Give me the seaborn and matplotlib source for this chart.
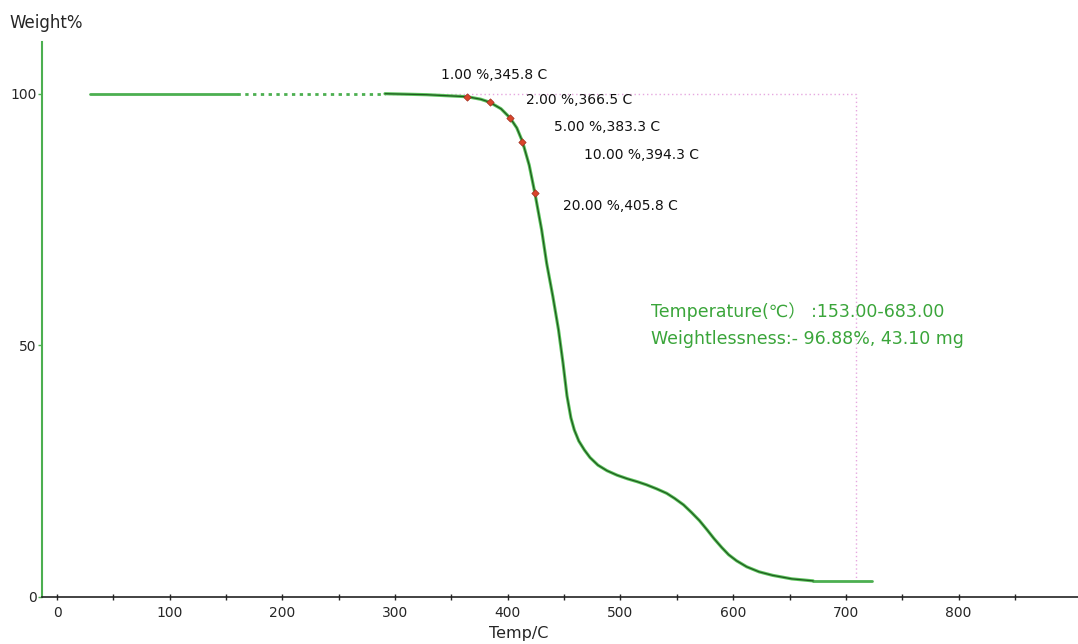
import matplotlib
matplotlib.use("Agg")
import matplotlib.pyplot as plt
import seaborn as sns
import pandas as pd

sns.set_style("white")
plt.rcParams["font.family"] = ["DejaVu Sans", "Noto Sans CJK SC"]

# ---- data ----
# flat start of the run (light green), then dotted gap
start_temp = [29, 160]
start_weight = [100, 100]
gap_temp = [160, 291]
gap_weight = [100, 100]

# main TG curve
curve_temp = [291, 310, 328, 346, 364, 376, 384, 394, 402, 408, 413, 419, 424,
              430, 434.5, 440, 445, 449, 452.5, 456, 459, 463, 468, 473, 480,
              488, 497, 506, 515, 523, 532, 541, 548, 556, 563, 570, 577, 583,
              590, 596, 603, 612, 623, 635, 652, 671]
curve_weight = [100, 99.9, 99.8, 99.6, 99.4, 98.9, 98.3, 97.0, 95.2, 93.2, 90.5,
                85.8, 80.3, 73.0, 66.3, 59.7, 53.1, 46.5, 40.0, 35.6, 33.2, 31.0,
                29.2, 27.7, 26.2, 25.1, 24.2, 23.5, 22.9, 22.3, 21.5, 20.6, 19.6,
                18.3, 16.8, 15.2, 13.3, 11.6, 9.8, 8.4, 7.2, 6.0, 5.0, 4.3, 3.6,
                3.2]

# flat end of the run (light green)
end_temp = [671, 723]
end_weight = [3.2, 3.2]

# marked weight-loss points
mark_temp = [364, 384, 402, 413, 424]
mark_weight = [99.4, 98.3, 95.2, 90.5, 80.3]
mark_labels = ["1.00 %,345.8 C", "2.00 %,366.5 C", "5.00 %,383.3 C",
               "10.00 %,394.3 C", "20.00 %,405.8 C"]
label_temp = [341, 416, 441, 468, 449]
label_weight = [103.8, 98.8, 93.4, 87.9, 77.6]

# evaluation window box
box_temp = [290, 709, 709]
box_weight = [100, 100, 3.2]

# ---- figure ----
fig = plt.figure(figsize=(10.78, 6.44), dpi=100)
ax = fig.add_axes([0.039, 0.073, 0.961, 0.862])

light_green = "#4caf50"

ax.plot(box_temp, box_weight, color="#e6a8e0", lw=1, ls=(0, (1, 2)), zorder=1)

sns.lineplot(x=start_temp, y=start_weight, ax=ax, color=light_green, lw=2, zorder=3)
sns.lineplot(x=gap_temp, y=gap_weight, ax=ax, color=light_green, lw=2,
             linestyle=(0, (1.2, 1.6)), zorder=3)
df = pd.DataFrame({"temp": curve_temp, "weight": curve_weight})
sns.lineplot(data=df, x="temp", y="weight", ax=ax, color="#5cc45c", lw=2.3, zorder=3)
sns.lineplot(data=df, x="temp", y="weight", ax=ax, color="#1f5a1f", lw=0.9, zorder=4)
sns.lineplot(x=end_temp, y=end_weight, ax=ax, color=light_green, lw=2, zorder=3)

sns.scatterplot(x=mark_temp, y=mark_weight, ax=ax, marker="D", s=14,
                color="#d9442a", edgecolor="#a03020", linewidth=0.5, zorder=5)

for t, w, lab in zip(label_temp, label_weight, mark_labels):
    ax.text(t, w, lab, fontsize=10, color="#111111", va="center", ha="left")

ax.text(527, 56.7, "Temperature(\u2103\uff09 :153.00-683.00", fontsize=12.5,
        color="#3aa53a", va="center", ha="left")
ax.text(527, 51.2, "Weightlessness:- 96.88%, 43.10 mg", fontsize=12.5,
        color="#3aa53a", va="center", ha="left")

ax.set_xlim(-13.3, 906)
ax.set_ylim(0, 110.3)
ax.set_xticks([0, 100, 200, 300, 400, 500, 600, 700, 800])
ax.set_xticks(range(50, 901, 100), minor=True)
ax.set_yticks([0, 50, 100])
ax.tick_params(axis="x", which="both", direction="inout", length=5, width=1,
               labelsize=10, pad=4, bottom=True)
ax.tick_params(axis="y", direction="out", length=3, width=1, labelsize=10,
               pad=1, left=True, color="#4caf50")

sns.despine(ax=ax, top=True, right=True)
ax.spines["left"].set_color("#4caf50")
ax.spines["left"].set_linewidth(1.5)
ax.spines["bottom"].set_color("#222222")
ax.spines["bottom"].set_linewidth(1.2)

ax.set_xlabel("")
ax.set_ylabel("")
fig.text(0.481, 0.016, "Temp/C", fontsize=11.5, va="center", ha="center")
fig.text(0.009, 0.964, "Weight%", fontsize=12, va="center", ha="left")

plt.savefig("out.png", dpi=100)
